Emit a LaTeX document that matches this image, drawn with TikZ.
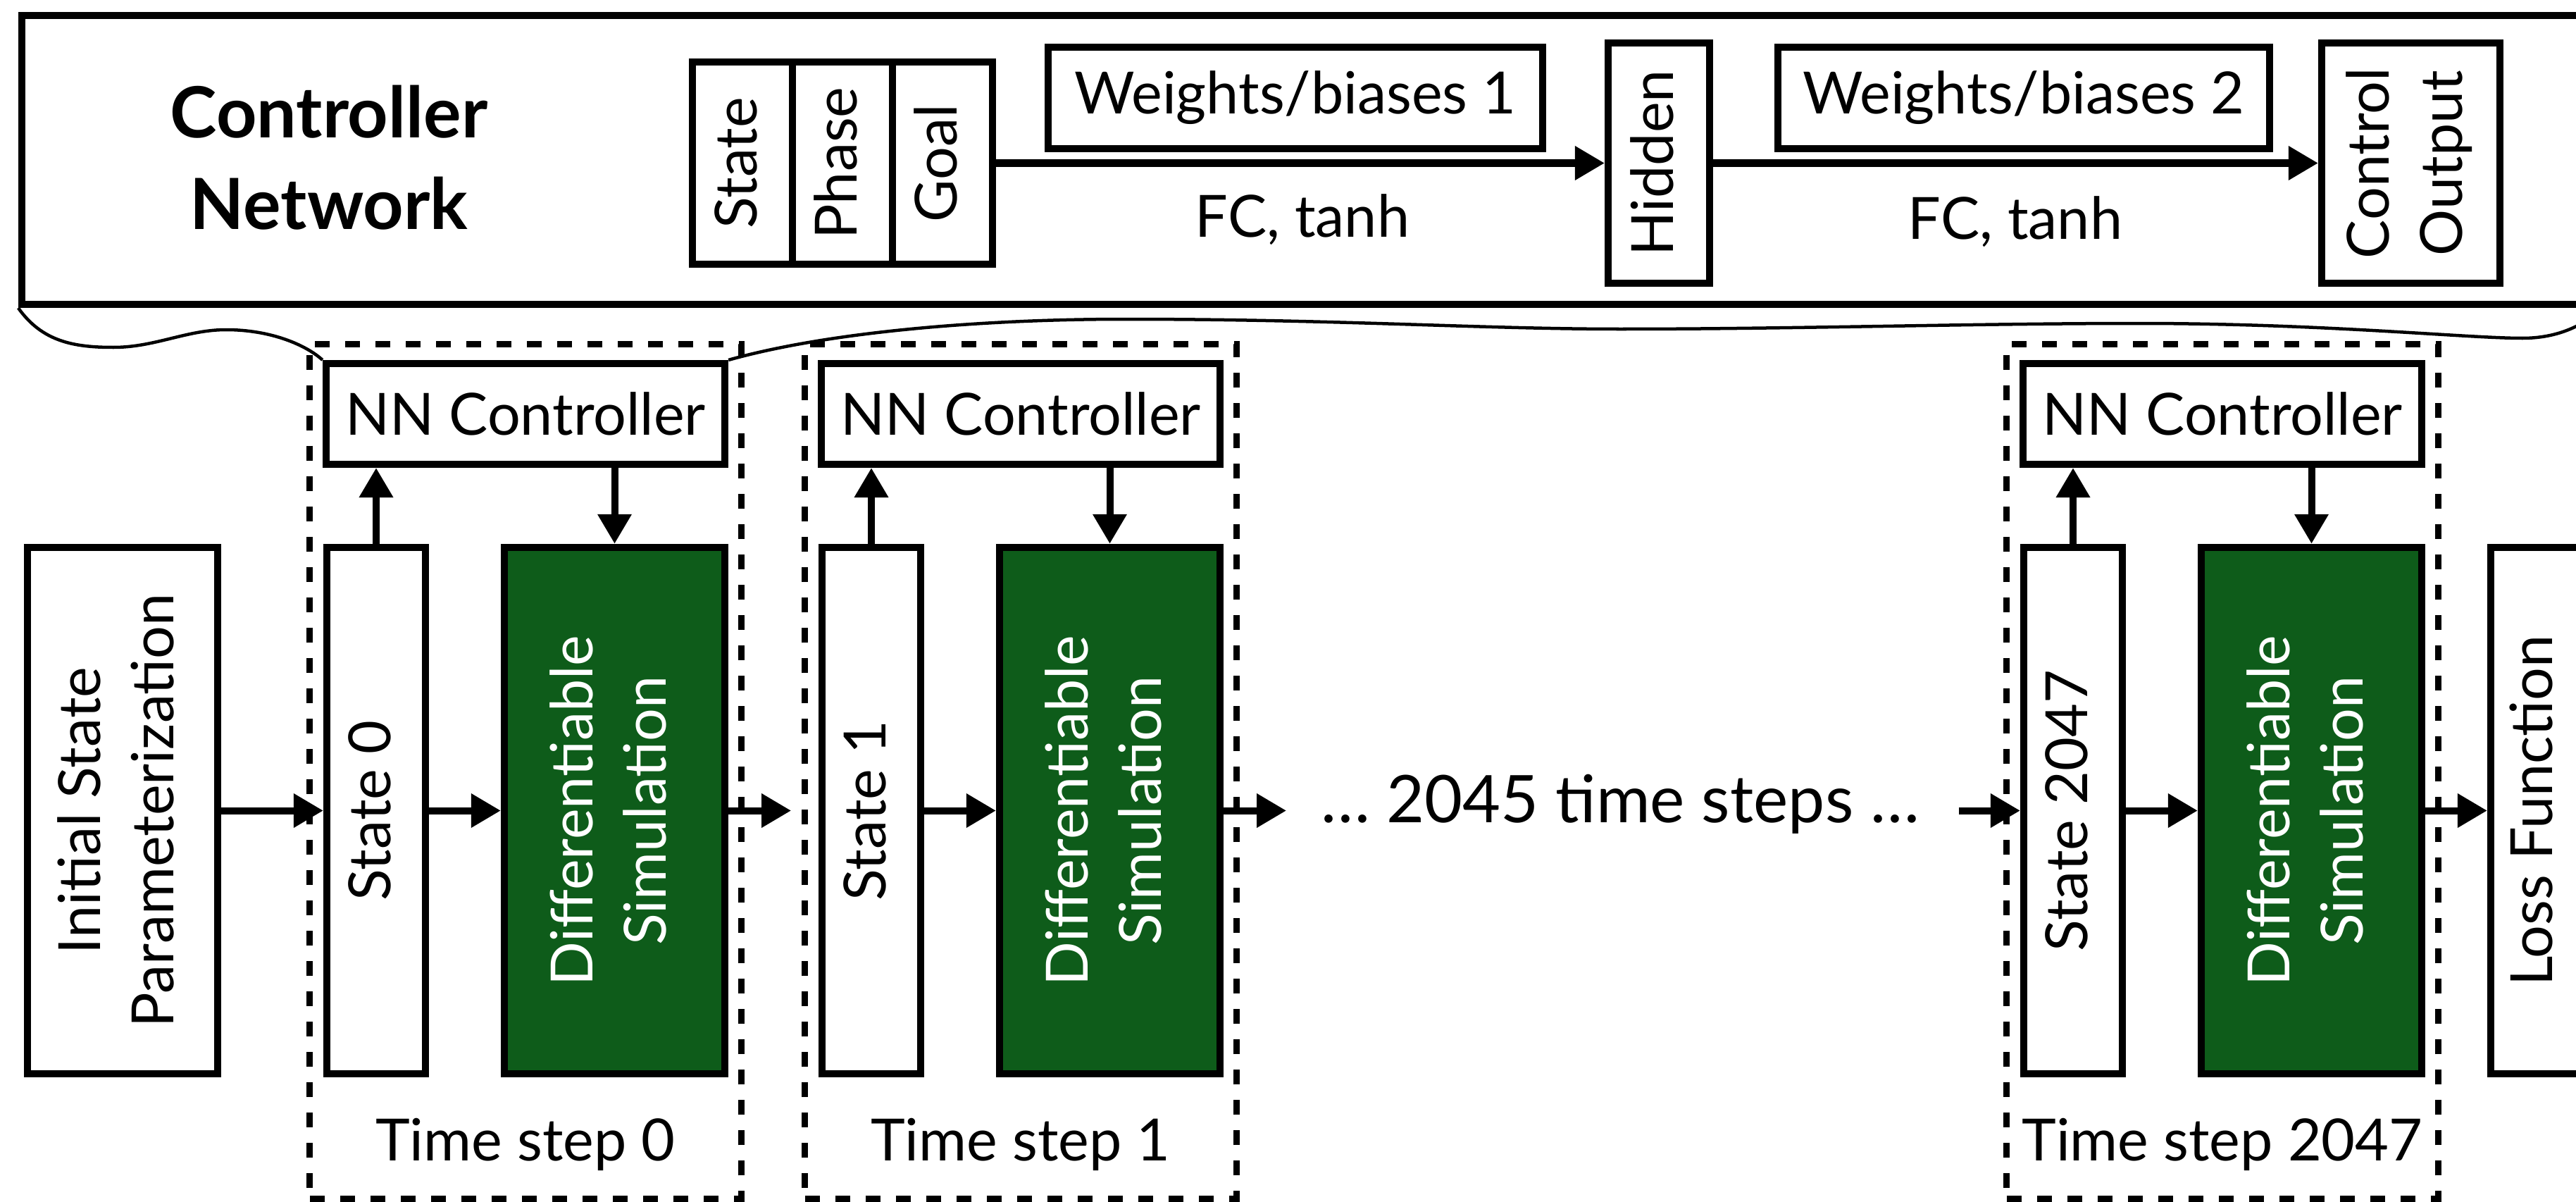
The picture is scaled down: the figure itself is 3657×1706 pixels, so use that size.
\documentclass[tikz,border=0pt]{standalone}
\usepackage{fontspec}
\usepackage{graphicx}
\setmainfont{Lato}
\usetikzlibrary{arrows.meta}
\definecolor{simgreen}{RGB}{14,92,26}
\newcommand\txtfont{\fontsize{23.5pt}{29.5pt}\selectfont}
\newcommand\titlefont{\fontsize{28.5pt}{37pt}\selectfont\bfseries}
% vertical (rotated) text, one or more centred lines
\newcommand\vtext[1]{\rotatebox{90}{\begin{tabular}{@{}c@{}}#1\end{tabular}}}
\begin{document}
\begin{tikzpicture}[x=0.01cm, y=-0.01cm,
  every node/.style={inner sep=0pt, font=\txtfont},
  box/.style={draw, line width=1mm, fill=white},
  simbox/.style={box, fill=simgreen, text=white},
  flow/.style={line width=1mm, -{Triangle[length=4.2mm,width=4.6mm]}},
  stepframe/.style={draw, line width=0.9mm, dash pattern=on 2.1mm off 2.2mm},
  callout/.style={line width=0.45mm},
]
\clip (0,0) rectangle (3657,1706);

% ---- controller network panel ----
\node[box, minimum width=36.58cm, minimum height=4.10cm] (net) at (1861,227) {};
\node[font=\titlefont, align=center] (title) at (467,224) {Controller\\Network};

\node[box, minimum width=1.42cm, minimum height=2.87cm] (inS) at (1054,231.5) {\vtext{State}};
\node[box, minimum width=1.42cm, minimum height=2.87cm] (inP) at (1196,231.5) {\vtext{Phase}};
\node[box, minimum width=1.42cm, minimum height=2.87cm] (inG) at (1338,231.5) {\vtext{Goal}};
\node[box, minimum width=7.02cm, minimum height=1.44cm] (wb1) at (1839,139) {Weights/biases 1};
\node[box, minimum width=1.44cm, minimum height=3.41cm] (hid) at (2355,231.5) {\vtext{Hidden}};
\node[box, minimum width=6.98cm, minimum height=1.44cm] (wb2) at (2873,139) {Weights/biases 2};
\node[box, minimum width=2.53cm, minimum height=3.41cm] (out) at (3422.5,231.5) {\vtext{Control\\Output}};
\node[anchor=base] (fc1) at (1849,337) {FC, tanh};
\node[anchor=base] (fc2) at (2861,340) {FC, tanh};
\draw[flow] (inG.east) -- (hid.west);
\draw[flow] (hid.east) -- (out.west);

% ---- unrolled simulation ----
\node[box, minimum width=2.70cm, minimum height=7.47cm] (init) at (174,1150.5) {\vtext{Initial State\\Parameterization}};

\foreach \L/\k/\n in {440/0/0, 1143/1/1, 2849/2047/2} {
  \node[stepframe, minimum width=6.12cm, minimum height=12.12cm] (frame\n) at (\L+306,1095) {};
  \node[box, minimum width=5.66cm, minimum height=1.43cm] (nn\n) at (\L+306,587.5) {NN Controller};
  \node[box, minimum width=1.40cm, minimum height=7.47cm] (s\n) at (\L+94,1150.5) {\vtext{State \k}};
  \node[simbox, minimum width=3.13cm, minimum height=7.47cm] (d\n) at (\L+432.5,1150.5) {\vtext{Differentiable\\Simulation}};
  \node[anchor=base] (lab\n) at (\L+306,1647) {Time step \k};
  \draw[flow] (s\n.north) -- (s\n.north |- nn\n.south);
  \draw[flow] (nn\n.south -| d\n.north) -- (d\n.north);
  \draw[flow] (s\n.east) -- (d\n.west);
}

\node[box, minimum width=1.34cm, minimum height=7.47cm] (loss) at (3603,1150.5) {\vtext{Loss Function}};
\node[anchor=base, font=\fontsize{26.5pt}{32pt}\selectfont] (dots) at (2300,1167) {… 2045 time steps …};

\coordinate (g0) at ([xshift=8.9mm]d0.east);
\coordinate (g1) at ([xshift=8.9mm]d1.east);
\coordinate (g2) at ([xshift=-8.7mm]s2.west);
\draw[flow] (init.east) -- (s0.west);
\draw[flow] (d0.east) -- (g0);
\draw[flow] (d1.east) -- (g1);
\draw[flow] (g2) -- (s2.west);
\draw[flow] (d2.east) -- (loss.west);

% ---- callout joining the panel to the first controller ----
\draw[callout] (net.south west)
  .. controls (60,485) and (105,493) .. (161,493)
  .. controls (220,493) and (265,468) .. (321,468)
  .. controls (385,468) and (435,490) .. (nn0.north west);
\draw[callout] (nn0.north east)
  .. controls (1180,470) and (1400,453) .. (1597,453)
  .. controls (1900,453) and (2100,467) .. (2300,467)
  .. controls (2550,467) and (2800,459) .. (3036,459)
  .. controls (3300,459) and (3500,480) .. (3581,480)
  .. controls (3640,480) and (3675,455) .. (net.south east);
\end{tikzpicture}
\end{document}
